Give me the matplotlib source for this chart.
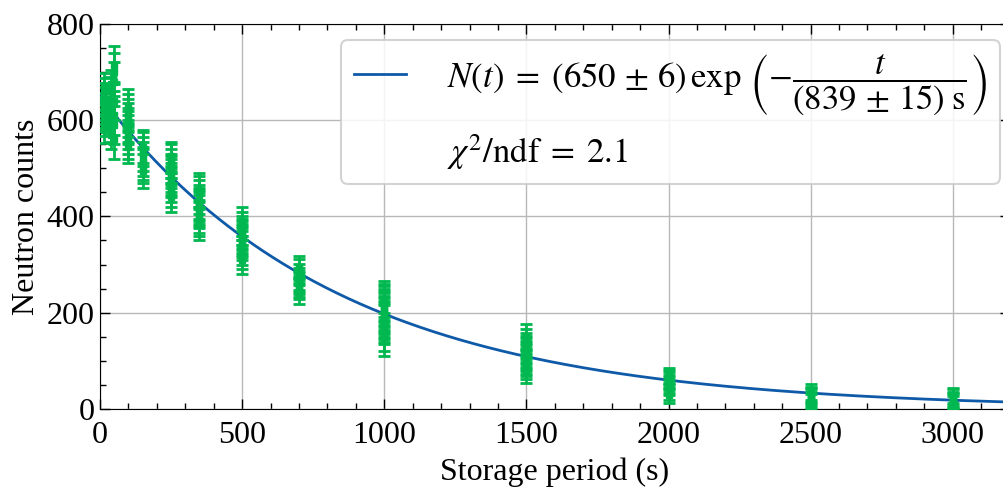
import numpy as np
import matplotlib
matplotlib.use("Agg")
import matplotlib.pyplot as plt
from matplotlib.lines import Line2D

# ---- data ----
times = [15, 40, 50, 100, 150, 250, 350, 500, 700, 1000, 1500, 2000, 2500, 3000]
counts = [
    [580, 595, 605, 612, 620, 628, 640, 650, 660, 670],
    [570, 585, 600, 615, 630, 645, 660, 675],
    [560, 590, 610, 640, 680, 700, 715],
    [545, 555, 565, 575, 585, 590, 600, 610, 620, 630],
    [495, 505, 510, 520, 530, 540, 545],
    [440, 450, 460, 470, 475, 480, 490, 495, 500, 510, 520, 525],
    [385, 395, 400, 410, 415, 420, 425, 430, 440, 450, 455],
    [310, 320, 330, 340, 345, 350, 355, 360, 365, 370, 380, 390],
    [240, 250, 255, 260, 265, 270, 280, 290, 295],
    [150, 160, 175, 180, 185, 190, 195, 200, 205, 210, 215, 220, 225],
    [80, 90, 95, 100, 105, 110, 115, 120, 125, 130, 140, 150],
    [28, 35, 45, 50, 55, 60, 65, 70],
    [15, 20, 25, 28, 30, 35],
    [10, 15, 18, 20, 25, 28],
]
cluster_err = [28, 30, 40, 35, 35, 30, 35, 30, 22, 40, 27, 16, 16, 16]

fit_N0 = 650
fit_tau = 839

plt.rcParams['font.family'] = ['Liberation Serif', 'DejaVu Serif']
plt.rcParams['mathtext.fontset'] = 'stix'

fig = plt.figure(figsize=(10.04, 4.88), dpi=100)
ax = fig.add_axes([0.0996, 0.162, 0.906, 0.789])

green = '#00b84f'
blue = '#0f5aa8'

tt = np.linspace(0, 3200, 400)
ax.plot(tt, fit_N0 * np.exp(-tt / fit_tau), color=blue, lw=2, zorder=3)

for t, cs, e in zip(times, counts, cluster_err):
    x = np.full(len(cs), t, dtype=float)
    ax.errorbar(x, cs, yerr=e, fmt='s', color=green, ms=4.5, elinewidth=2,
                capsize=4, capthick=2, zorder=4)

ax.set_xlim(0, 3200)
ax.set_ylim(0, 800)
ax.set_xticks([0, 500, 1000, 1500, 2000, 2500, 3000])
ax.set_yticks([0, 200, 400, 600, 800])
ax.set_xticks(np.arange(0, 3201, 100), minor=True)
ax.set_yticks(np.arange(0, 801, 50), minor=True)
ax.tick_params(which='both', direction='in', top=True, right=True, labelsize=23)
ax.tick_params(which='major', length=7, width=1, pad=4)
ax.tick_params(which='minor', length=4, width=1)
ax.tick_params(axis='x', which='major', pad=9)
ax.grid(True, which='major', color='#b8b8b8', lw=1)
ax.set_axisbelow(True)

ax.set_xlabel('Storage period (s)', fontsize=23, labelpad=5)
ax.set_ylabel('Neutron counts', fontsize=23, labelpad=4)

h1 = Line2D([], [], color=blue, lw=2)
h2 = Line2D([], [], color='none')
lab1 = (r'$N(t)\;=\;(650\,\pm\,6)\,\exp\,\left(-\dfrac{t}'
        r'{(839\,\pm\,15)\;\mathrm{s}}\right)$')
lab2 = r'$\chi^2/\mathrm{ndf}\;=\;2.1$'
leg = ax.legend([h1, h2], [lab1, lab2], loc='upper right', fontsize=25,
                bbox_to_anchor=(0.989, 0.958), borderaxespad=0,
                framealpha=0.85, edgecolor='#cccccc',
                handlelength=1.5, handletextpad=1.2, labelspacing=0.45,
                borderpad=0.35)
leg.get_frame().set_linewidth(1.5)

fig.savefig('out.png', dpi=100)
